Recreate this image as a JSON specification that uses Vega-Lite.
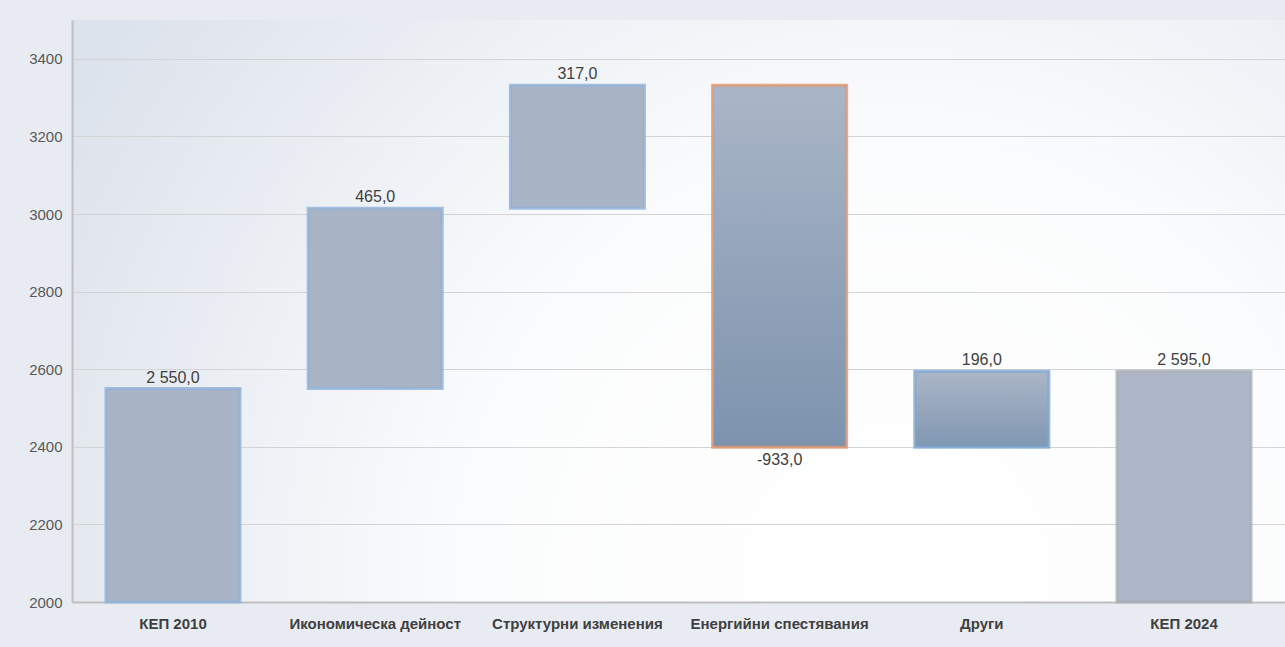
{
  "$schema": "https://vega.github.io/schema/vega-lite/v6.json",
  "width": 1213,
  "height": 582,
  "autosize": {"type": "none"},
  "padding": {"left": 72, "top": 20, "right": 0, "bottom": 45},
  "background": "#e8ecf2",
  "config": {
    "locale": {"number": {"decimal": ",", "thousands": " ", "grouping": [3], "currency": ["", ""], "minus": "-"}},
    "view": {
      "stroke": null,
      "fill": {
        "gradient": "radial", "x1": 0.68, "y1": 0.72, "r1": 0, "x2": 0.68, "y2": 0.72, "r2": 0.78,
        "stops": [{"offset": 0, "color": "#ffffff"}, {"offset": 0.45, "color": "#fbfcfd"}, {"offset": 1, "color": "#dde3ec"}]
      }
    },
    "font": "Liberation Sans",
    "axis": {"labelFont": "Liberation Sans", "titleFont": "Liberation Sans"}
  },
  "datasets": {
    "wf": [
      {"cat": "КЕП 2010", "start": 2000, "end": 2550, "value": 2550},
      {"cat": "Икономическа дейност", "start": 2550, "end": 3015, "value": 465},
      {"cat": "Структурни изменения", "start": 3015, "end": 3332, "value": 317},
      {"cat": "Енергийни спестявания", "start": 3332, "end": 2399, "value": -933},
      {"cat": "Други", "start": 2399, "end": 2595, "value": 196},
      {"cat": "КЕП 2024", "start": 2000, "end": 2595, "value": 2595}
    ]
  },
  "data": {"name": "wf"},
  "layer": [
    {
      "mark": {"type": "bar", "fill": "#a8b4c5", "stroke": "#90b2da", "strokeWidth": 3, "strokeOpacity": 0.8},
      "transform": [{"filter": "datum.cat != 'Енергийни спестявания' && datum.cat != 'Други' && datum.cat != 'КЕП 2024'"}],
      "encoding": {
        "x": {"field": "cat", "type": "nominal", "sort": null},
        "y": {"field": "start", "type": "quantitative"},
        "y2": {"field": "end"}
      }
    },
    {
      "mark": {
        "type": "bar", "stroke": "#e0966c", "strokeWidth": 3, "strokeOpacity": 0.8,
        "fill": {"gradient": "linear", "x1": 0, "y1": 0, "x2": 0, "y2": 1,
          "stops": [{"offset": 0, "color": "#aab6c7"}, {"offset": 1, "color": "#7d93ad"}]}
      },
      "transform": [{"filter": "datum.cat == 'Енергийни спестявания'"}],
      "encoding": {
        "x": {"field": "cat", "type": "nominal", "sort": null},
        "y": {"field": "start", "type": "quantitative"},
        "y2": {"field": "end"}
      }
    },
    {
      "mark": {
        "type": "bar", "stroke": "#7fa7d6", "strokeWidth": 3, "strokeOpacity": 0.8,
        "fill": {"gradient": "linear", "x1": 0, "y1": 0, "x2": 0, "y2": 1,
          "stops": [{"offset": 0, "color": "#abb6c7"}, {"offset": 1, "color": "#8098b2"}]}
      },
      "transform": [{"filter": "datum.cat == 'Други'"}],
      "encoding": {
        "x": {"field": "cat", "type": "nominal", "sort": null},
        "y": {"field": "start", "type": "quantitative"},
        "y2": {"field": "end"}
      }
    },
    {
      "mark": {"type": "bar", "fill": "#adb7c7", "stroke": "#a9aeb5", "strokeWidth": 3, "strokeOpacity": 0.8},
      "transform": [{"filter": "datum.cat == 'КЕП 2024'"}],
      "encoding": {
        "x": {"field": "cat", "type": "nominal", "sort": null},
        "y": {"field": "start", "type": "quantitative"},
        "y2": {"field": "end"}
      }
    },
    {
      "mark": {"type": "text", "baseline": "bottom", "dy": -3, "fontSize": 16, "color": "#404040"},
      "transform": [{"filter": "datum.value >= 0"}],
      "encoding": {
        "x": {"field": "cat", "type": "nominal", "sort": null},
        "y": {"field": "end", "type": "quantitative"},
        "text": {"field": "value", "type": "quantitative", "format": ",.1f"}
      }
    },
    {
      "mark": {"type": "text", "baseline": "top", "dy": 5, "fontSize": 16, "color": "#404040"},
      "transform": [{"filter": "datum.value < 0"}],
      "encoding": {
        "x": {"field": "cat", "type": "nominal", "sort": null},
        "y": {"field": "end", "type": "quantitative"},
        "text": {"field": "value", "type": "quantitative", "format": ",.1f"}
      }
    }
  ],
  "encoding": {
    "x": {
      "field": "cat", "type": "nominal", "sort": null, "title": null,
      "scale": {"paddingInner": 0.337, "paddingOuter": 0.168},
      "axis": {"labelAngle": 0, "ticks": false, "domainColor": "#bfbfbf", "domainWidth": 2,
        "labelFontWeight": "bold", "labelFontSize": 15, "labelColor": "#404040", "labelPadding": 14, "grid": false}
    },
    "y": {
      "field": "start", "type": "quantitative", "title": null,
      "scale": {"domain": [2000, 3500], "nice": false, "zero": false},
      "axis": {"values": [2000, 2200, 2400, 2600, 2800, 3000, 3200, 3400], "format": "d",
        "ticks": false, "domainColor": "#bfbfbf", "domainWidth": 2, "gridColor": "#d3d3d3",
        "labelFontSize": 15, "labelColor": "#595959", "labelPadding": 10}
    }
  }
}
